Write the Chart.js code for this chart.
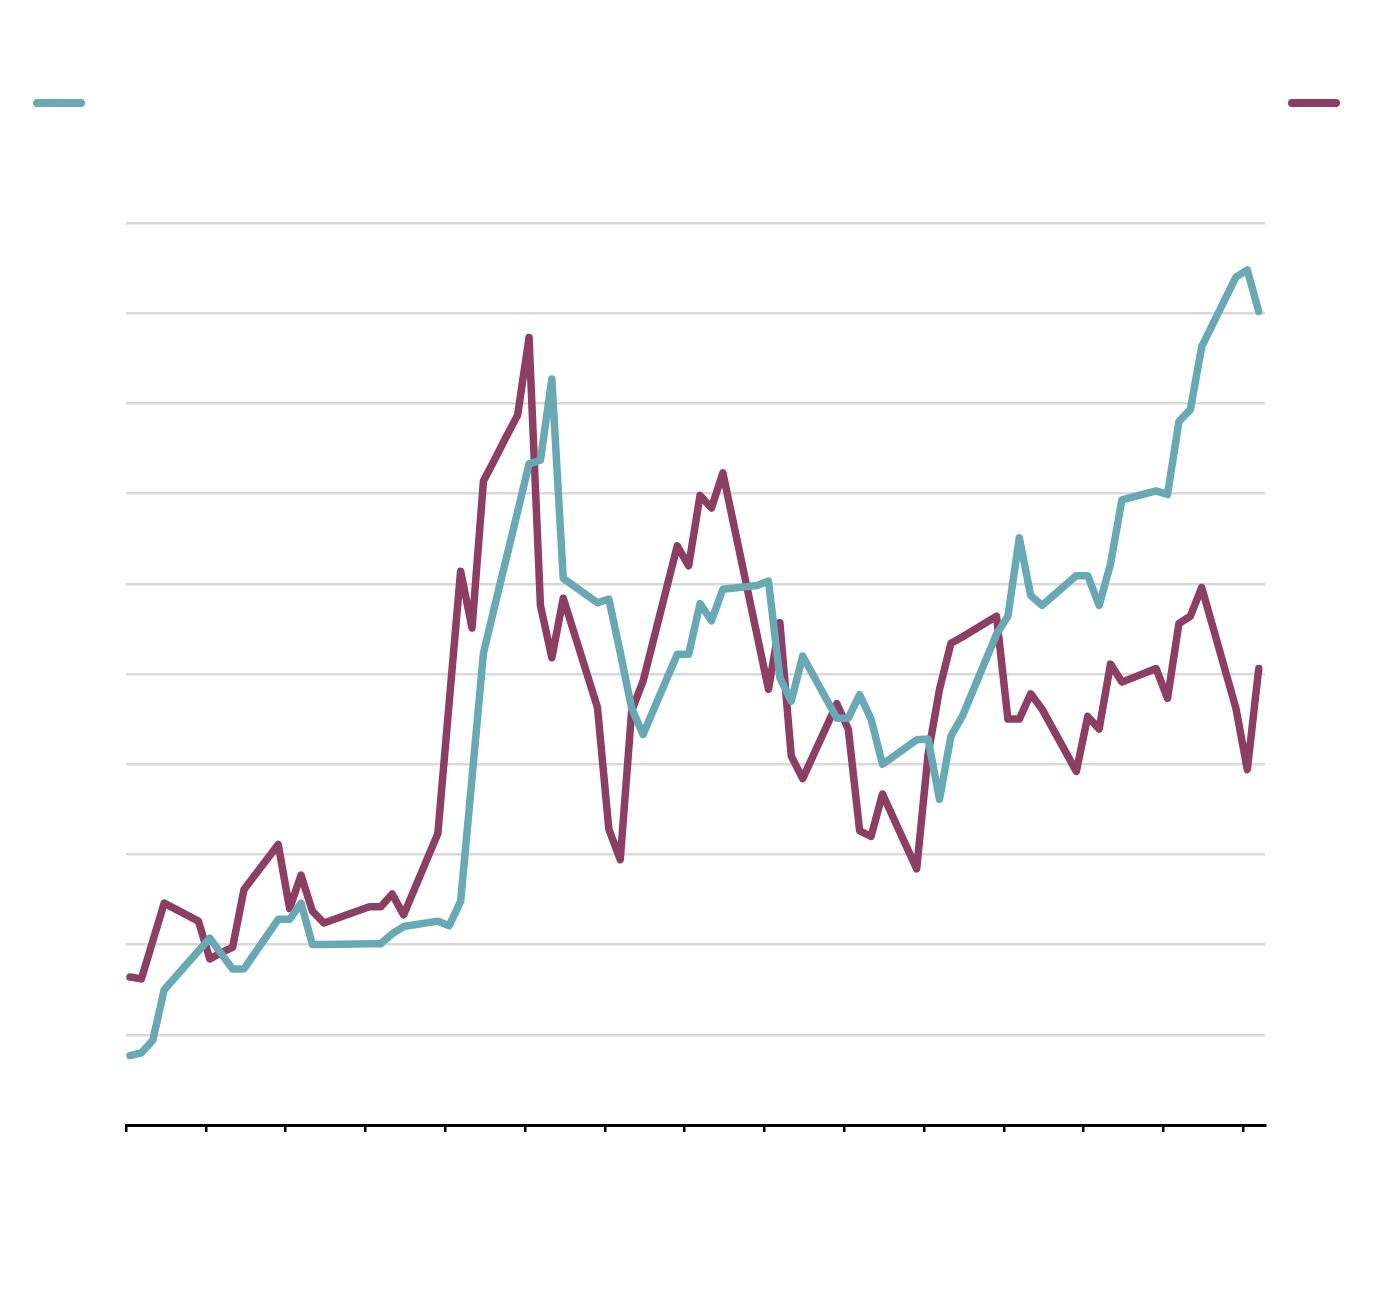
<!DOCTYPE html>
<html>
<head>
<meta charset="utf-8">
<script src="https://cdn.jsdelivr.net/npm/chart.js@4.4.1/dist/chart.umd.min.js"></script>
<style>
  html, body { margin: 0; padding: 0; background: #fff; }
  #wrap { position: relative; width: 1400px; height: 1310px; }
  .key { position: absolute; top: 99px; width: 52px; height: 8px; border-radius: 4px; }
</style>
</head>
<body>
<div id="wrap">
  <div class="key" style="left:33px; background:#69a9b3;"></div>
  <div class="key" style="left:1288px; background:#8c3f63;"></div>
  <canvas id="chart" width="1400" height="1310"></canvas>
</div>
<script>
// trading days, counted from the first observation (weekends and one holiday skipped)
const days = [0, 1, 2, 3, 6, 7, 8, 9, 10, 13, 14, 15, 16, 17, 21, 22, 23, 24, 27, 28, 29, 30,
  31, 32, 33, 34, 35, 36, 37, 38, 41, 42, 43, 44, 45, 48, 49, 50, 51, 52, 55, 56, 57, 58, 59,
  62, 63, 64, 65, 66, 69, 70, 71, 72, 73, 76, 77, 78, 79, 80, 83, 84, 85, 86, 87, 90, 91, 92,
  93, 94, 97, 98, 99];

const tealValues = [7.7, 8.0, 9.4, 15.0, 19.3, 20.7, 19.0, 17.3, 17.3, 22.8, 22.8, 24.6, 20.0,
  20.0, 20.1, 20.1, 21.2, 22.0, 22.6, 22.1, 24.8, 38.5, 52.3, 57.6, 62.8, 68.0, 73.3, 73.7,
  82.7, 60.6, 57.9, 58.3, 52.4, 46.2, 43.3, 52.2, 52.2, 57.8, 55.9, 59.4, 59.8, 60.3, 49.6,
  47.0, 52.0, 45.1, 45.1, 47.7, 45.0, 40.0, 42.7, 42.8, 36.1, 43.1, 45.3, 54.4, 56.4, 65.1,
  58.7, 57.6, 60.9, 60.9, 57.6, 62.2, 69.3, 70.3, 69.9, 78.0, 79.3, 86.3, 94.0, 94.8, 90.2];

const maroonValues = [16.4, 16.2, 20.4, 24.6, 22.6, 18.4, 19.1, 19.7, 26.1, 31.1, 24.0, 27.7,
  23.7, 22.4, 24.2, 24.2, 25.6, 23.3, 32.3, 46.9, 61.4, 55.1, 71.4, 73.8, 76.3, 78.7, 87.3,
  57.6, 51.8, 58.4, 46.3, 32.8, 29.4, 45.9, 49.2, 64.2, 62.0, 69.8, 68.4, 72.3, 54.3, 48.3,
  55.7, 40.9, 38.4, 46.7, 43.9, 32.6, 32.0, 36.7, 28.4, 41.1, 48.3, 53.4, 54.1, 56.4, 45.0,
  45.0, 47.8, 46.1, 39.2, 45.3, 43.9, 51.1, 49.1, 50.6, 47.3, 55.6, 56.4, 59.6, 46.2, 39.4, 50.6];

// weekly tick marks on the time axis
const weekTicks = [];
for (let k = 0; k <= 14; k++) weekTicks.push(-0.35 + 7 * k);

const TEAL = "#69a9b3";
const MAROON = "#8c3f63";

const toPoints = (vals) => vals.map((v, i) => ({ x: days[i], y: v }));

new Chart(document.getElementById("chart"), {
  type: "line",
  data: {
    datasets: [
      {
        data: toPoints(tealValues),
        borderColor: TEAL,
        borderWidth: 7.5,
        borderJoinStyle: "round",
        borderCapStyle: "round",
        pointRadius: 0,
        tension: 0,
      },
      {
        data: toPoints(maroonValues),
        borderColor: MAROON,
        borderWidth: 7.5,
        borderJoinStyle: "round",
        borderCapStyle: "round",
        pointRadius: 0,
        tension: 0,
      },
    ],
  },
  options: {
    responsive: false,
    animation: false,
    events: [],
    layout: { padding: { left: 126, right: 135, top: 223, bottom: 178 } },
    plugins: { legend: { display: false }, tooltip: { enabled: false } },
    scales: {
      x: {
        type: "linear",
        min: -0.35,
        max: 99.55,
        afterBuildTicks: (scale) => {
          scale.ticks = weekTicks.map((v) => ({ value: v }));
        },
        border: { display: true, color: "#000", width: 3 },
        grid: {
          drawOnChartArea: false,
          drawTicks: true,
          tickLength: 7,
          color: "#000",
          lineWidth: 2.5,
        },
        ticks: { display: false },
      },
      y: {
        min: 0,
        max: 100,
        ticks: { display: false, stepSize: 10 },
        border: { display: false },
        grid: { color: "#d9d9d9", lineWidth: 2.5, drawTicks: false },
      },
    },
  },
});
</script>
</body>
</html>
